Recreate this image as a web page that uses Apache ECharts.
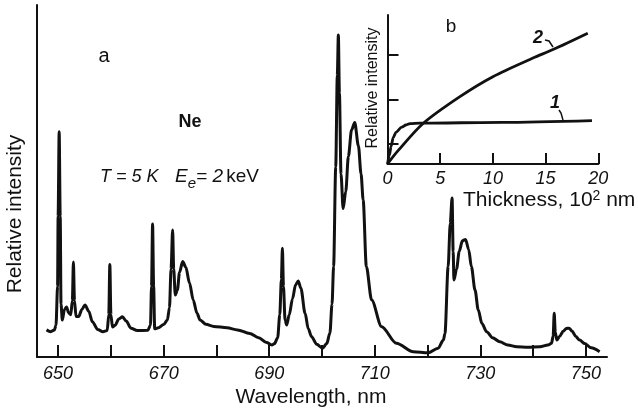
<!DOCTYPE html>
<html>
<head>
<meta charset="utf-8">
<script src="https://cdn.jsdelivr.net/npm/echarts@6/dist/echarts.min.js"></script>
<style>
  html, body { margin: 0; padding: 0; background: #fff; }
  #chart { width: 638px; height: 413px; }
</style>
</head>
<body>
<div id="chart"></div>
<script>
// spectrum (a): wavelength in nm, relative intensity (arb.)
const wavelength = [
  647.8, 648.6, 649.3, 649.6, 649.9, 650.0, 650.2, 650.4, 650.55, 650.8,
  651.2, 651.6, 652.0, 652.4, 652.7, 652.9, 653.1, 653.4, 653.9, 654.5,
  655.1, 655.8, 656.5, 657.5, 658.5, 659.3, 659.6, 659.8, 660.0, 660.3,
  660.8, 661.5, 662.2, 662.9, 663.8, 665.0, 667.0, 667.5, 667.7, 667.9,
  668.1, 668.3, 669.0, 670.0, 670.7, 671.1, 671.4, 671.7, 671.9, 672.2,
  672.6, 673.0, 673.6, 674.2, 674.9, 675.6, 676.3, 676.9, 678.0, 679.5,
  682.0, 684.0, 686.3, 688.0, 689.5, 690.5, 691.0, 691.6, 692.0, 692.3,
  692.5, 692.7, 693.0, 693.3, 693.8, 694.4, 695.0, 695.5, 696.0, 696.8,
  697.4, 698.0, 699.0, 700.1, 700.9, 701.5, 701.9, 702.2, 702.6, 702.9,
  703.1, 703.3, 703.6, 704.0, 704.5, 705.0, 705.6, 706.2, 706.9, 707.4,
  707.8, 708.4, 709.4, 711.3, 714.1, 717.3, 720.1, 722.0, 723.0, 723.3,
  723.9, 724.3, 724.65, 724.85, 725.0, 725.5, 726.0, 726.6, 727.2, 727.8,
  728.3, 729.0, 729.6, 730.3, 731.2, 732.3, 733.7, 735.2, 736.9, 739.0,
  741.3, 742.8, 743.5, 743.8, 744.0, 744.2, 744.5, 745.0, 745.7, 746.3,
  746.8, 747.4, 748.1, 748.8, 749.8, 751.0, 752.6
];
const intensity = [
  7.7, 7.2, 7.7, 9, 20, 40, 64, 40, 15, 10.5,
  13.5, 14.2, 12.5, 12.0, 16, 27, 16, 11.5, 11.5, 13.5,
  14.8, 13, 10, 7.8, 7.2, 7.5, 12, 26.3, 12, 8.5,
  9, 10.8, 11.4, 10.2, 8.2, 7.5, 7.6, 9, 20, 37.8,
  20, 8, 8.3, 9.2, 10.5, 14, 25, 36.1, 25, 17.6,
  19, 24, 27.1, 25.5, 21, 16.2, 12.5, 10.5, 9.3, 8.7,
  8.3, 7.7, 6.7, 5.5, 4.1, 3.4, 3.8, 5.5, 12, 22,
  30.9, 20, 10.5, 9.1, 12, 16.5, 20.5, 21.6, 19.5, 12.4,
  8, 5.8, 3.6, 2.5, 3.8, 6.8, 15, 25.7, 54, 80,
  91.5, 75, 52, 42.2, 47, 57, 64.5, 66.6, 60, 52,
  44.6, 25.7, 16.2, 8.6, 3.9, 1.5, 1.2, 2.5, 4.8, 6.7,
  25.7, 38, 45.2, 30, 21.9, 25, 30, 33, 33.4, 30.5,
  25.7, 19, 13.4, 9.5, 7.2, 5.5, 4.3, 3.4, 2.9, 2.8,
  2.9, 3.4, 3.9, 6, 12.4, 7, 4.8, 5.8, 7.3, 8.1,
  8.2, 7.3, 5.8, 4.8, 3.8, 2.6, 1.5
];
const xTicks = [650, 660, 670, 680, 690, 700, 710, 720, 730, 740, 750];
const xLabels = [650, 670, 690, 710, 730, 750];

// inset (b): thickness in 10^2 nm
const thick1 = [0, 0.19, 0.33, 0.55, 0.81, 1.35, 1.75, 2.13, 3.08, 10.9, 19.4];
const curve1 = [0, 0.2, 0.39, 0.6, 0.72, 0.83, 0.88, 0.91, 0.92, 0.94, 0.98];
const thick2 = [0, 1.0, 3.4, 6.87, 10.0, 13.8, 15.7, 19.0];
const curve2 = [0, 0.3, 0.92, 1.52, 1.97, 2.39, 2.58, 2.95];
const insetXTicks = [5, 10, 15, 20];
const insetXLabels = [0, 5, 10, 15, 20];
const insetYTicks = [0.46, 1.46, 2.46];

const font = '"Liberation Sans", Arial, sans-serif';
const ink = '#111';

const chart = echarts.init(document.getElementById('chart'));

const option = {
  backgroundColor: '#fff',
  animation: false,
  grid: [
    { left: 37, right: 31, top: 5, bottom: 56 },
    { left: 387.5, right: 39.7, top: 15, bottom: 249 }
  ],
  xAxis: [
    {
      gridIndex: 0, type: 'value', min: 646, max: 754,
      axisLine: { lineStyle: { color: ink, width: 2 } },
      axisTick: { inside: true, length: 12, customValues: xTicks, lineStyle: { color: ink, width: 2 } },
      axisLabel: {
        customValues: xLabels, margin: 8, color: ink,
        fontFamily: font, fontSize: 18, fontStyle: 'italic'
      },
      splitLine: { show: false }
    },
    {
      gridIndex: 1, type: 'value', min: 0, max: 20,
      axisLine: { lineStyle: { color: ink, width: 2 } },
      axisTick: { inside: true, length: 11, customValues: insetXTicks, lineStyle: { color: ink, width: 2 } },
      axisLabel: {
        customValues: insetXLabels, margin: 6, color: ink,
        fontFamily: font, fontSize: 18, fontStyle: 'italic'
      },
      splitLine: { show: false }
    }
  ],
  yAxis: [
    {
      gridIndex: 0, type: 'value', min: 0, max: 100,
      axisLine: { show: true, lineStyle: { color: ink, width: 2 } },
      axisTick: { show: false },
      axisLabel: { show: false },
      splitLine: { show: false }
    },
    {
      gridIndex: 1, type: 'value', min: 0, max: 3.36,
      axisLine: { show: true, lineStyle: { color: ink, width: 2 } },
      axisTick: { inside: true, length: 11, customValues: insetYTicks, lineStyle: { color: ink, width: 2 } },
      axisLabel: { show: false },
      splitLine: { show: false }
    }
  ],
  series: [
    {
      type: 'line', xAxisIndex: 0, yAxisIndex: 0,
      data: wavelength.map((w, i) => [w, intensity[i]]),
      symbol: 'none', smooth: 0.3, smoothMonotone: 'x',
      lineStyle: { color: ink, width: 3 }
    },
    {
      type: 'line', xAxisIndex: 1, yAxisIndex: 1,
      data: thick1.map((t, i) => [t, curve1[i]]),
      symbol: 'none', smooth: 0.3, smoothMonotone: 'x',
      lineStyle: { color: ink, width: 2.8 }
    },
    {
      type: 'line', xAxisIndex: 1, yAxisIndex: 1,
      data: thick2.map((t, i) => [t, curve2[i]]),
      symbol: 'none', smooth: 0.3,
      lineStyle: { color: ink, width: 2.8 }
    }
  ],
  graphic: [
    { type: 'text', x: 15, y: 214, rotation: Math.PI / 2,
      style: { text: 'Relative intensity', font: '21px ' + font, fill: ink, align: 'center', verticalAlign: 'middle' } },
    { type: 'text', x: 311, y: 397,
      style: { text: 'Wavelength, nm', font: '21px ' + font, fill: ink, align: 'center', verticalAlign: 'middle' } },
    { type: 'text', x: 104, y: 56,
      style: { text: 'a', font: '20px ' + font, fill: ink, align: 'center', verticalAlign: 'middle' } },
    { type: 'text', x: 190, y: 122,
      style: { text: 'Ne', font: 'bold 18px ' + font, fill: ink, align: 'center', verticalAlign: 'middle' } },
    { type: 'text', x: 100, y: 177,
      style: { text: 'T = 5 K', font: 'italic 18px ' + font, fill: ink, align: 'left', verticalAlign: 'middle' } },
    { type: 'text', x: 175, y: 177,
      style: {
        text: '{i|E}{s|e}{i|= 2} {n|keV}',
        fill: ink, align: 'left', verticalAlign: 'middle',
        rich: {
          i: { font: 'italic 19px ' + font, fill: ink },
          s: { font: 'italic 15px ' + font, fill: ink, padding: [14, 0, 0, 0] },
          n: { font: '19px ' + font, fill: ink }
        }
      } },
    { type: 'text', x: 373, y: 88, rotation: Math.PI / 2,
      style: { text: 'Relative intensity', font: '16px ' + font, fill: ink, align: 'center', verticalAlign: 'middle' } },
    { type: 'text', x: 463, y: 200,
      style: {
        text: 'Thickness, 10{sup|2} nm', fill: ink, align: 'left', verticalAlign: 'middle',
        font: '21px ' + font,
        rich: { sup: { font: '14px ' + font, fill: ink, padding: [0, 0, 8, 0] } }
      } },
    { type: 'text', x: 451, y: 27,
      style: { text: 'b', font: '19px ' + font, fill: ink, align: 'center', verticalAlign: 'middle' } },
    { type: 'text', x: 538, y: 38,
      style: { text: '2', font: 'italic bold 18px ' + font, fill: ink, align: 'center', verticalAlign: 'middle' } },
    { type: 'polyline', shape: { points: [[545, 40], [549, 41], [553, 47]] },
      style: { stroke: ink, lineWidth: 1.5, fill: null } },
    { type: 'text', x: 555, y: 103,
      style: { text: '1', font: 'italic bold 18px ' + font, fill: ink, align: 'center', verticalAlign: 'middle' } },
    { type: 'polyline', shape: { points: [[559, 110], [561, 113], [563, 120]] },
      style: { stroke: ink, lineWidth: 1.5, fill: null } }
  ]
};

chart.setOption(option);
</script>
</body>
</html>
